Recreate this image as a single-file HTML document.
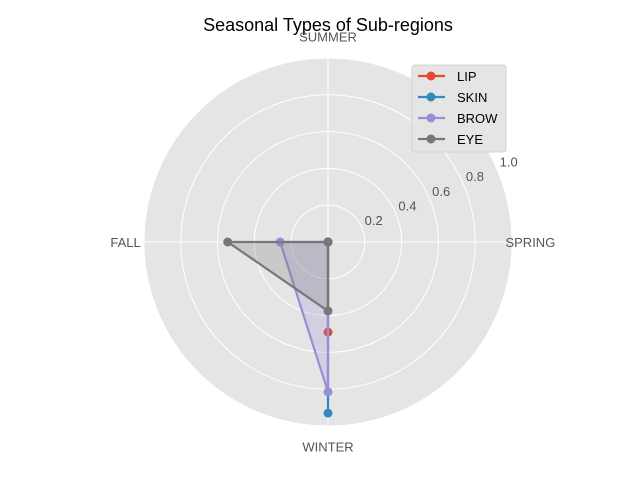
<!DOCTYPE html>
<html><head><meta charset="utf-8"><style>body{margin:0;background:#fff}svg text{font-family:"Liberation Sans","DejaVu Sans",sans-serif}</style></head>
<body>
<svg id="c" width="640" height="480" viewBox="0 0 640 480">
<text x="328" y="31" text-anchor="middle" font-size="18" fill="#000">Seasonal Types of Sub-regions</text>
<g id="grid"></g><g id="series"></g>
<g id="legend">
<rect x="412" y="65" width="94" height="87" rx="3" fill="#e5e5e5" stroke="#ccc" stroke-width="0.8"/>
</g>
</svg>
<script>
const categories=["SPRING","SUMMER","FALL","WINTER"];
const seriesNames=["LIP","SKIN","BROW","EYE"];
const colors=["#E24A33","#348ABD","#988ED5","#777777"];
const lipValues=[0,0,0,0.49];
const skinValues=[0,0,0,0.93];
const browValues=[0,0,0.26,0.815];
const eyeValues=[0,0,0.545,0.375];
const ticks=[0.2,0.4,0.6,0.8,1.0];
const tickLabels=["0.2","0.4","0.6","0.8","1.0"];
const allValues=[lipValues,skinValues,browValues,eyeValues];
const NS="http://www.w3.org/2000/svg";
const cx=328,cy=242,R=184,rmax=1.0;
function rad(v){return v/rmax*R;}
function pt(i,v){const a=i*Math.PI*2/categories.length;return [cx+rad(v)*Math.cos(a),cy-rad(v)*Math.sin(a)];}
function mk(tag,attrs,parent){const e=document.createElementNS(NS,tag);for(const k in attrs)e.setAttribute(k,attrs[k]);parent.appendChild(e);return e;}
const g=document.getElementById('grid');
let bg=mk('circle',{cx:cx,cy:cy,r:R,fill:'#e5e5e5'},g);


ticks.forEach((t,i)=>{
 const c=mk('circle',{cx:cx,cy:cy,r:rad(t),fill:'none',stroke:'#fff','stroke-width':1},g);
 
 
 const a=23.5*Math.PI/180,rr=rad(t)+13;
 const tx=mk('text',{x:cx+rr*Math.cos(a),y:cy-rr*Math.sin(a)+3,'text-anchor':'middle','font-size':13,fill:'#555'},g);
 tx.textContent=tickLabels[i];
 
 
});
const labelDy=[5,2,5,7];
categories.forEach((c,i)=>{
 const p=pt(i,rmax);
 const l=mk('line',{x1:cx,y1:cy,x2:p[0],y2:p[1],stroke:'#fff','stroke-width':1},g);
 
 
 const q=pt(i,rmax*1.1);
 const t=mk('text',{x:q[0],y:q[1]+labelDy[i],'text-anchor':'middle','font-size':13,fill:'#555'},g);
 t.textContent=c;
 
 
});
const s=document.getElementById('series');
allValues.forEach((vals,k)=>{
 const pts=vals.map((v,i)=>pt(i,v));
 const d=pts.map(p=>p.join(',')).join(' ');
 const f=mk('polygon',{points:d,fill:colors[k],'fill-opacity':0.25,stroke:'none'},s);
 
 
 const pl=mk('polygon',{points:d,fill:'none',stroke:colors[k],'stroke-width':2.2},s);
 
 
 pts.forEach(p=>{
  const m=mk('circle',{cx:p[0],cy:p[1],r:4.5,fill:colors[k]},s);
  
  
 });
});
const lg=document.getElementById('legend');
seriesNames.forEach((n,k)=>{
 const y=76+k*21;
 const ln=mk('line',{x1:418,y1:y,x2:445,y2:y,stroke:colors[k],'stroke-width':2.2},lg);
 
 
 const m=mk('circle',{cx:431,cy:y,r:4.5,fill:colors[k]},lg);
 
 
 const t=mk('text',{x:457,y:y+5,'font-size':13,fill:'#000'},lg);
 t.textContent=n;
 
 
});
</script>
</body></html>
